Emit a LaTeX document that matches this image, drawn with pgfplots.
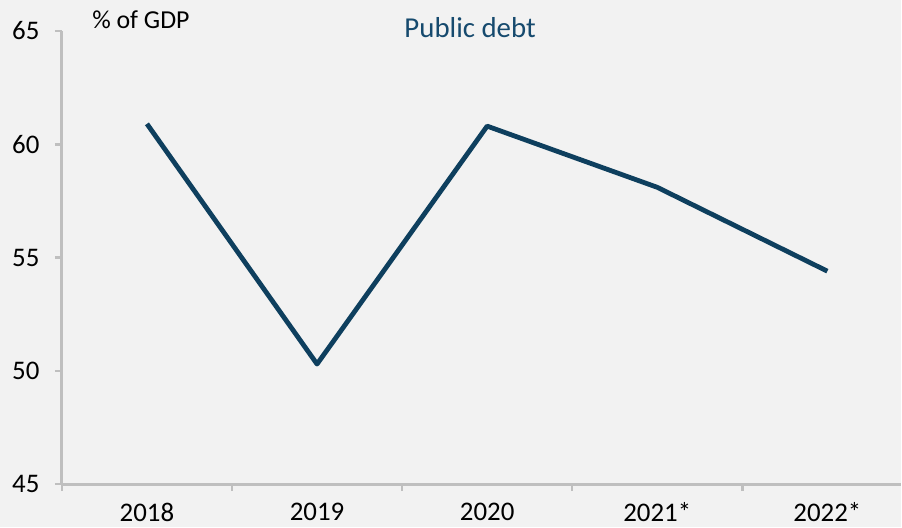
\documentclass[border=0pt]{standalone}
\usepackage{pgfplots}
\pgfplotsset{compat=1.18}
\usepackage{fontspec}
\setmainfont{Carlito}
\definecolor{bg}{HTML}{F2F2F2}
\definecolor{axisgray}{HTML}{BFBFBF}
\definecolor{linec}{HTML}{0E3F5E}
\definecolor{titlec}{HTML}{164A6E}
\begin{document}
\begin{tikzpicture}
\fill[bg] (-62bp,-43bp) rectangle (840bp,485bp);
\begin{axis}[
  scale only axis,
  width=840bp, height=454bp,
  xmin=-0.5, xmax=4.43,
  ymin=45, ymax=65,
  ytick={45,50,55,60,65},
  xtick={-0.5,0.5,1.5,2.5,3.5},
  xticklabels={},
  extra x ticks={0,1,2,3,4},
  extra x tick labels={2018,2019,2020,2021*,2022*},
  extra x tick style={major tick length=0pt},
  axis x line=bottom, axis y line=left,
  axis line style={-, draw=axisgray, line width=3bp},
  tick align=outside,
  major tick length=7bp,
  tick style={draw=axisgray, line width=2.5bp},
  ticklabel style={font=\fontsize{27}{30}\selectfont, text=black},
  /pgf/number format/assume math mode=true,
  yticklabel style={xshift=-12bp},
  xticklabel style={yshift=-15bp},
  clip=false,
]
\addplot[linec, line width=4.8bp, line join=round] coordinates {
(0,60.9) (1,50.3) (2,60.8) (3,58.1) (4,54.4)
};
\node[font=\fontsize{26}{30}\selectfont, anchor=center] at (axis cs:-0.0355,65.5) {\% of GDP};
\node[font=\fontsize{29}{32}\selectfont, text=titlec, anchor=center] at (axis cs:1.9,65.15) {Public debt};
\end{axis}
\end{tikzpicture}
\end{document}
